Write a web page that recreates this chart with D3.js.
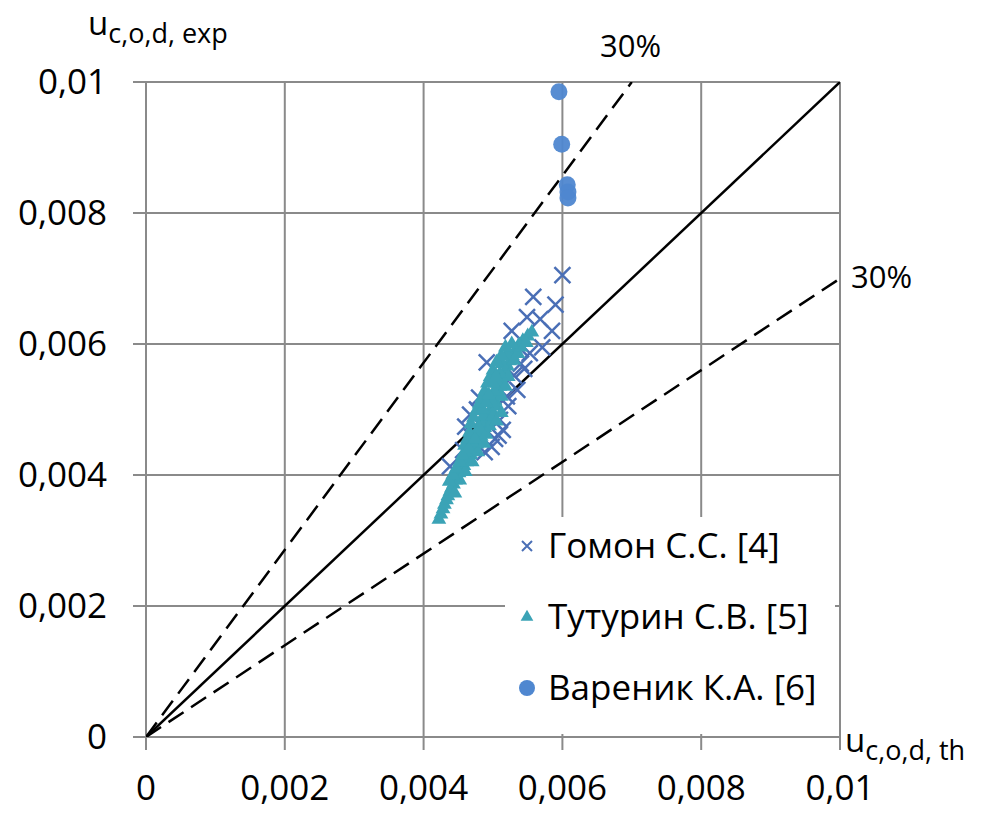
<!DOCTYPE html>
<html>
<head>
<meta charset="utf-8">
<script src="https://cdn.jsdelivr.net/npm/d3@7"></script>
<style>
  html, body { margin: 0; padding: 0; background: #fff; }
  text { font-family: "Open Sans", "Noto Sans", sans-serif; fill: #000; }
</style>
</head>
<body>
<div id="chart"></div>
<script>
// Axis ticks
const xTicks = [0, 0.002, 0.004, 0.006, 0.008, 0.01];
const yTicks = [0, 0.002, 0.004, 0.006, 0.008, 0.01];

// Series: Гомон С.С. [4] (crosses)
const gomon = [
    [0.00600, 0.00705], [0.00558, 0.00672], [0.00590, 0.00660], [0.00549, 0.00641],
    [0.00568, 0.00638], [0.00527, 0.00620], [0.00585, 0.00620], [0.00571, 0.00595],
    [0.00540, 0.00592], [0.00553, 0.00586], [0.00545, 0.00562], [0.00491, 0.00572],
    [0.00530, 0.00552], [0.00522, 0.00505], [0.00510, 0.00484], [0.00514, 0.00469],
    [0.00498, 0.00443], [0.00503, 0.00455], [0.00480, 0.00518], [0.00477, 0.00500],
    [0.00460, 0.00474], [0.00467, 0.00492], [0.00457, 0.00438], [0.00438, 0.00413],
    [0.00470, 0.00458], [0.00520, 0.00520], [0.00508, 0.00460], [0.00488, 0.00435],
    [0.00535, 0.00530], [0.00540, 0.00570]
];

// Series: Тутурин С.В. [5] (triangles)
const tuturin = [
    [0.00422, 0.00332], [0.00425, 0.00340], [0.00428, 0.00348], [0.00430, 0.00355],
    [0.00433, 0.00362], [0.00435, 0.00368], [0.00438, 0.00375], [0.00440, 0.00380],
    [0.00443, 0.00386], [0.00446, 0.00392], [0.00448, 0.00398], [0.00451, 0.00403],
    [0.00455, 0.00408], [0.00458, 0.00414], [0.00462, 0.00420], [0.00465, 0.00425],
    [0.00468, 0.00431], [0.00471, 0.00436], [0.00474, 0.00441], [0.00477, 0.00447],
    [0.00480, 0.00453], [0.00483, 0.00459], [0.00485, 0.00465], [0.00488, 0.00472],
    [0.00490, 0.00478], [0.00493, 0.00485], [0.00495, 0.00492], [0.00498, 0.00499],
    [0.00500, 0.00506], [0.00503, 0.00513], [0.00506, 0.00520], [0.00508, 0.00527],
    [0.00510, 0.00535], [0.00512, 0.00542], [0.00515, 0.00550], [0.00518, 0.00558],
    [0.00521, 0.00566], [0.00524, 0.00574], [0.00528, 0.00582], [0.00532, 0.00590],
    [0.00537, 0.00598], [0.00543, 0.00605], [0.00550, 0.00612], [0.00556, 0.00618],
    [0.00445, 0.00372], [0.00452, 0.00392], [0.00460, 0.00405], [0.00470, 0.00420],
    [0.00478, 0.00435], [0.00487, 0.00448], [0.00460, 0.00435], [0.00470, 0.00450],
    [0.00478, 0.00465], [0.00482, 0.00480], [0.00486, 0.00490], [0.00495, 0.00475],
    [0.00500, 0.00490], [0.00505, 0.00505], [0.00512, 0.00520], [0.00497, 0.00515],
    [0.00502, 0.00528], [0.00507, 0.00540], [0.00518, 0.00535], [0.00522, 0.00550],
    [0.00510, 0.00555], [0.00513, 0.00570], [0.00520, 0.00585], [0.00530, 0.00575],
    [0.00536, 0.00585], [0.00540, 0.00595], [0.00527, 0.00600], [0.00548, 0.00602],
    [0.00505, 0.00482], [0.00512, 0.00495], [0.00490, 0.00462],
    [0.00437, 0.00390], [0.00442, 0.00400], [0.00447, 0.00410], [0.00452, 0.00420],
    [0.00456, 0.00430], [0.00459, 0.00445], [0.00463, 0.00455], [0.00466, 0.00465],
    [0.00468, 0.00478], [0.00472, 0.00488], [0.00476, 0.00498], [0.00480, 0.00508],
    [0.00484, 0.00518], [0.00488, 0.00528], [0.00492, 0.00540], [0.00496, 0.00550],
    [0.00500, 0.00560], [0.00505, 0.00572], [0.00512, 0.00582], [0.00518, 0.00595],
    [0.00465, 0.00440], [0.00474, 0.00455], [0.00480, 0.00472], [0.00485, 0.00500],
    [0.00490, 0.00510], [0.00494, 0.00522], [0.00500, 0.00540], [0.00504, 0.00550]
];

// Series: Вареник К.А. [6] (circles)
const varenik = [
    [0.00595, 0.00985], [0.00599, 0.00905], [0.00607, 0.00843],
    [0.00608, 0.00832], [0.00608, 0.00823]
];

// Reference lines: y = k * x
const lineSlopes = [1, 0.7, 1 / 0.7];

const legendItems = [
    {label: "Гомон С.С. [4]", type: "cross"},
    {label: "Тутурин С.В. [5]", type: "triangle"},
    {label: "Вареник К.А. [6]", type: "circle"}
];

const colors = {cross: "#4a6fb6", triangle: "#3ba3b6", circle: "#4f87d0"};

const svg = d3.select("#chart").append("svg")
    .attr("width", 995)
    .attr("height", 814);

const x = d3.scaleLinear().domain([0, 0.01]).range([146, 840]);
const y = d3.scaleLinear().domain([0, 0.01]).range([737, 82]);

const fmt = d => d === 0 ? "0" : String(+d.toFixed(3)).replace(".", ",");

const gridColor = "#8a8a8a";

// Vertical gridlines (with tick below axis)
svg.append("g")
    .selectAll("line")
    .data(xTicks)
    .enter().append("line")
    .attr("x1", d => x(d)).attr("x2", d => x(d))
    .attr("y1", y(0.01)).attr("y2", y(0) + 13)
    .attr("stroke", gridColor)
    .attr("stroke-width", 2);

// Horizontal gridlines (with tick left of axis)
svg.append("g")
    .selectAll("line")
    .data(yTicks)
    .enter().append("line")
    .attr("x1", x(0) - 13).attr("x2", x(0.01))
    .attr("y1", d => y(d)).attr("y2", d => y(d))
    .attr("stroke", gridColor)
    .attr("stroke-width", 2);

// Tick labels
svg.append("g")
    .selectAll("text")
    .data(xTicks)
    .enter().append("text")
    .attr("x", d => x(d))
    .attr("y", 800)
    .attr("text-anchor", "middle")
    .attr("font-size", "35px")
    .text(fmt);

svg.append("g")
    .selectAll("text")
    .data(yTicks)
    .enter().append("text")
    .attr("x", 107)
    .attr("y", d => y(d) + 12)
    .attr("text-anchor", "end")
    .attr("font-size", "35px")
    .text(fmt);

// Reference lines, clipped to the plot area
svg.append("clipPath").attr("id", "plotClip")
    .append("rect")
    .attr("x", x(0)).attr("y", y(0.01))
    .attr("width", x(0.01) - x(0)).attr("height", y(0) - y(0.01));

svg.append("g")
    .attr("clip-path", "url(#plotClip)")
    .selectAll("line")
    .data(lineSlopes)
    .enter().append("line")
    .attr("x1", x(0)).attr("y1", y(0))
    .attr("x2", d => x(Math.min(0.01, 0.01 / d)))
    .attr("y2", d => y(Math.min(0.01, 0.01 * d)))
    .attr("stroke", "#000")
    .attr("stroke-width", 2.5)
    .attr("stroke-dasharray", d => d === 1 ? null : "18,9");

// Data points
const crossSize = 8;
svg.append("g")
    .selectAll("path")
    .data(gomon)
    .enter().append("path")
    .attr("d", d => {
        const cx = x(d[0]), cy = y(d[1]);
        return `M${cx - crossSize},${cy - crossSize}L${cx + crossSize},${cy + crossSize}` +
               `M${cx - crossSize},${cy + crossSize}L${cx + crossSize},${cy - crossSize}`;
    })
    .attr("stroke", colors.cross)
    .attr("stroke-width", 2.5)
    .attr("fill", "none");

const tri = d3.symbol().type(d3.symbolTriangle).size(95);
svg.append("g")
    .selectAll("path")
    .data(tuturin)
    .enter().append("path")
    .attr("d", tri)
    .attr("transform", d => `translate(${x(d[0])},${y(d[1])})`)
    .attr("fill", colors.triangle);

svg.append("g")
    .selectAll("circle")
    .data(varenik)
    .enter().append("circle")
    .attr("cx", d => x(d[0]))
    .attr("cy", d => y(d[1]))
    .attr("r", 8.5)
    .attr("fill", colors.circle)
    .attr("opacity", 0.95);

// 30% labels
svg.append("text").attr("x", 600).attr("y", 57).attr("font-size", "31px").text("30%");
svg.append("text").attr("x", 851).attr("y", 288).attr("font-size", "31px").text("30%");

// Axis titles with subscripts
function axisTitle(px, py, sub) {
    const t = svg.append("text").attr("x", px).attr("y", py).attr("font-size", "33px");
    t.append("tspan").text("u");
    t.append("tspan").attr("font-size", "27px").attr("dy", 8).text(sub);
}
axisTitle(88, 35, "c,o,d, exp");
axisTitle(845, 752, "c,o,d, th");

// Legend (white box covers the gridlines beneath it)
const legend = svg.append("g");
legend.append("rect")
    .attr("x", 505).attr("y", 517)
    .attr("width", 330).attr("height", 217)
    .attr("fill", "#fff");

const legendRow = legend.selectAll("g")
    .data(legendItems)
    .enter().append("g")
    .attr("transform", (d, i) => `translate(527,${546 + i * 71})`);

legendRow.each(function(d) {
    const g = d3.select(this);
    if (d.type === "cross") {
        g.append("path")
            .attr("d", "M-5,-5L5,5M-5,5L5,-5")
            .attr("stroke", colors.cross).attr("stroke-width", 2).attr("fill", "none");
    } else if (d.type === "triangle") {
        g.append("path").attr("d", d3.symbol().type(d3.symbolTriangle).size(70))
            .attr("fill", colors.triangle);
    } else {
        g.append("circle").attr("r", 8).attr("fill", colors.circle);
    }
    g.append("text")
        .attr("x", 21)
        .attr("y", 12)
        .attr("font-size", "35px")
        .text(d.label);
});
</script>
</body>
</html>
